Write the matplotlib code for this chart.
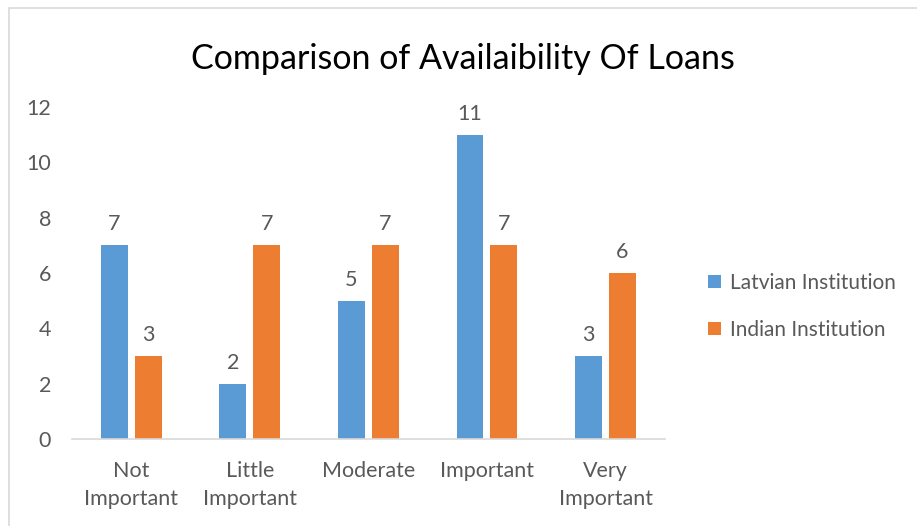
import numpy as np
import matplotlib.pyplot as plt
from matplotlib.patches import Rectangle

categories = ['Not\nImportant', 'Little\nImportant', 'Moderate', 'Important', 'Very\nImportant']
latvian = [7, 2, 5, 11, 3]
indian = [3, 7, 7, 7, 6]

plt.rcParams['font.family'] = ['Lato', 'DejaVu Sans']
grey = '#595959'

fig = plt.figure(figsize=(9.17, 5.26), dpi=100)
ax = fig.add_axes([0.0785, 0.1654, 0.6465, 0.6312])

x = np.arange(len(categories))
w = 0.227
off = 0.143
b1 = ax.bar(x - off, latvian, w, color='#5B9BD5', label='Latvian Institution')
b2 = ax.bar(x + off, indian, w, color='#ED7D31', label='Indian Institution')

for bars in (b1, b2):
    for b in bars:
        ax.text(b.get_x() + b.get_width() / 2, b.get_height() + 0.4, str(int(b.get_height())),
                ha='center', va='bottom', fontsize=15.5, color=grey)

ax.set_xlim(-0.5, len(categories) - 0.5)
ax.set_ylim(0, 12)
ax.set_yticks(range(0, 13, 2))
ax.set_xticks(x)
ax.set_xticklabels(categories, fontsize=15.5, color=grey, linespacing=1.5)
ax.tick_params(axis='y', labelsize=15.5, labelcolor=grey, length=0, pad=15)
ax.tick_params(axis='x', length=0, pad=16)
for s in ['top', 'right', 'left']:
    ax.spines[s].set_visible(False)
ax.spines['bottom'].set_color('#D9D9D9')
ax.spines['bottom'].set_linewidth(1.2)

fig.text(0.505, 0.888, 'Comparison of Availaibility Of Loans', ha='center', va='center',
         fontsize=24.5, color='black')

fig.legend(loc='center left', bbox_to_anchor=(0.752, 0.418), frameon=False, fontsize=15,
           labelcolor=grey, handlelength=0.6, handleheight=0.6, handletextpad=0.45,
           labelspacing=1.3)

# outer chart border
fig.patches.append(Rectangle((0.0098, -0.1), 1.2, 1.085, transform=fig.transFigure,
                             fill=False, edgecolor='#D9D9D9', linewidth=1.2))

fig.savefig('out.png', dpi=100)
